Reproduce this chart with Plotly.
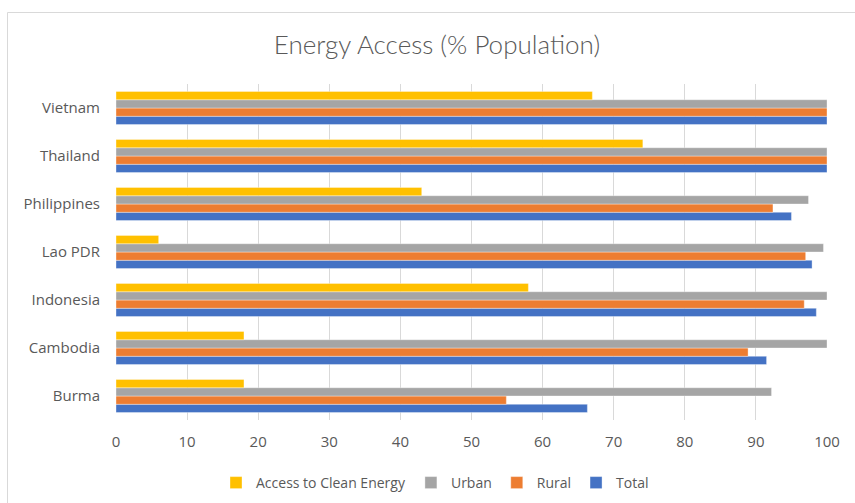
import plotly.graph_objects as go

# Countries, bottom to top as drawn on the category axis
countries = ["Burma", "Cambodia", "Indonesia", "Lao PDR", "Philippines", "Thailand", "Vietnam"]

# Electricity / clean energy access, % of population
total = [66.3, 91.5, 98.5, 97.9, 95.0, 100, 100]
rural = [54.9, 88.9, 96.8, 97.0, 92.4, 100, 100]
urban = [92.2, 100, 100, 99.5, 97.4, 100, 100]
clean_energy = [18, 18, 58, 6, 43, 74.1, 67]

x_ticks = list(range(0, 101, 10))

TEXT = "#595959"
FONT = "Open Sans"
TITLE_FONT = "Lato"

fig = go.Figure()
# Plotly stacks grouped horizontal bars bottom-up, so Total goes first
series = [
    ("Total", total, "#4472C4"),
    ("Rural", rural, "#ED7D31"),
    ("Urban", urban, "#A5A5A5"),
    ("Access to Clean Energy", clean_energy, "#FFC000"),
]
for name, vals, color in series:
    fig.add_trace(go.Bar(
        y=countries, x=vals, name=name, orientation="h",
        marker=dict(color=color, line=dict(color="rgba(255,255,255,0.6)", width=0.6)),
    ))

W, H = 855, 503
L, R, T, B = 116, 28, 84, 83
pw, ph = W - L - R, H - T - B

def px_x(p):
    return (p - L) / pw

def px_y(p):
    return (H - B - p) / ph

fig.update_layout(
    width=W, height=H,
    margin=dict(l=L, r=R, t=T, b=B, autoexpand=False),
    paper_bgcolor="white", plot_bgcolor="white",
    barmode="group", bargap=0.31, bargroupgap=0,
    font=dict(family=FONT, color=TEXT, size=15),
    title=dict(text="Energy Access (% Population)", x=437 / W, xanchor="center",
               y=1 - 45 / H, yanchor="middle",
               font=dict(family=TITLE_FONT, size=26, color=TEXT, weight=300)),
    xaxis=dict(range=[0, 100], tickvals=x_ticks, ticktext=[str(v) for v in x_ticks],
               showgrid=True, gridcolor="#D9D9D9", gridwidth=1, zeroline=False,
               showline=False, ticks="outside", ticklen=8, tickcolor="rgba(0,0,0,0)",
               tickfont=dict(size=15, color=TEXT), fixedrange=True, automargin=False),
    yaxis=dict(showgrid=False, zeroline=False, showline=False,
               ticks="outside", ticklen=12, tickcolor="rgba(0,0,0,0)",
               tickfont=dict(size=15, color=TEXT), fixedrange=True, automargin=False),
    legend=dict(orientation="h", traceorder="reversed",
                x=435 / W, xref="container", xanchor="center",
                y=1 - 483 / H, yref="container", yanchor="middle",
                font=dict(size=14, color=TEXT), itemwidth=30),
    showlegend=True,
    shapes=[dict(type="rect", xref="paper", yref="paper",
                 x0=px_x(7.5), x1=px_x(870), y0=px_y(520), y1=px_y(12.5),
                 line=dict(color="#D9D9D9", width=1), fillcolor="rgba(0,0,0,0)",
                 layer="below")],
)

fig.write_html("out.html")
